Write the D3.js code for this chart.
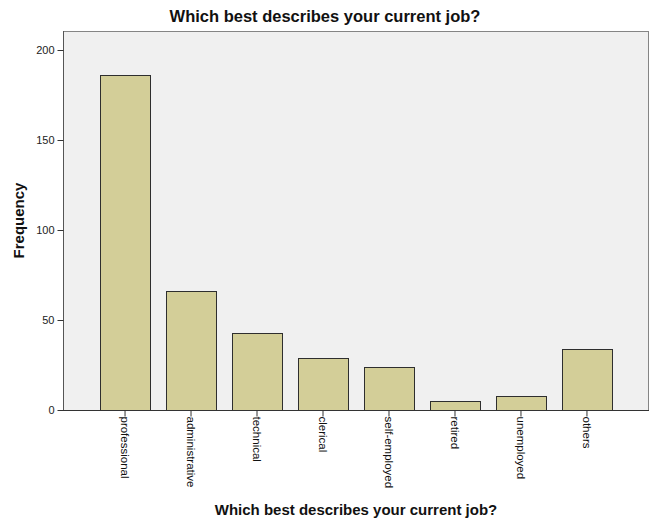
<!DOCTYPE html>
<html>
<head>
<meta charset="utf-8">
<script src="https://cdn.jsdelivr.net/npm/d3@7"></script>
<style>
  html, body { margin: 0; padding: 0; background: #ffffff; }
  svg { display: block; font-family: Arial, "Liberation Sans", sans-serif; }
</style>
</head>
<body>
<svg id="chart" width="650" height="519"></svg>
<script>
const categories = ["professional", "administrative", "technical", "clerical", "self-employed", "retired", "unemployed", "others"];
const frequencies = [186, 66, 43, 29, 24, 5, 8, 34];
const yTicks = [0, 50, 100, 150, 200];
const chartTitle = "Which best describes your current job?";
const xTitle = "Which best describes your current job?";
const yTitle = "Frequency";

const svg = d3.select("#chart");
const plot = { left: 63, right: 649, top: 31, bottom: 410 };

const x = d3.scaleBand()
  .domain(categories)
  .range([plot.left, plot.right])
  .paddingInner(0.24)
  .paddingOuter(0.56);

const y = d3.scaleLinear()
  .domain([0, 200])
  .range([plot.bottom, 50]);

// plot background
svg.append("rect")
  .attr("x", plot.left + 0.5)
  .attr("y", plot.top + 0.5)
  .attr("width", plot.right - plot.left - 1)
  .attr("height", plot.bottom - plot.top)
  .attr("fill", "#f0f0f0")
  .attr("stroke", "#858585")
  .attr("stroke-width", 1);

// bars
svg.append("g").selectAll("rect")
  .data(categories.map((c, i) => ({ c, v: frequencies[i] })))
  .join("rect")
  .attr("x", d => Math.round(x(d.c)) + 0.5)
  .attr("y", d => Math.round(y(d.v)) + 0.5)
  .attr("width", d => Math.round(x.bandwidth()))
  .attr("height", d => Math.round(y(0)) - Math.round(y(d.v)))
  .attr("fill", "#d3ce98")
  .attr("stroke", "#2e2e2e")
  .attr("stroke-width", 1);

// y axis
const yAxis = d3.axisLeft(y).tickValues(yTicks).tickSize(6).tickPadding(3).tickFormat(d3.format("d"));
const gy = svg.append("g")
  .attr("transform", `translate(${plot.left + 0.5},0)`)
  .call(yAxis);
gy.select(".domain").attr("d", `M0,${plot.top}V${plot.bottom + 0.5}`).attr("stroke", "#555");
gy.selectAll(".tick line").attr("stroke", "#333");
gy.selectAll(".tick text").attr("font-size", "11px").attr("fill", "#222").attr("font-family", "Arial, 'Liberation Sans', sans-serif");

// x axis
const xAxis = d3.axisBottom(x).tickSize(6).tickPadding(2);
const gx = svg.append("g")
  .attr("transform", `translate(0,${plot.bottom + 0.5})`)
  .call(xAxis);
gx.select(".domain").attr("d", `M${plot.left},0H${plot.right}`).attr("stroke", "#333");
gx.selectAll(".tick line").attr("stroke", "#333");
gx.selectAll(".tick text")
  .attr("font-size", "11.5px")
  .attr("fill", "#111")
  .attr("font-family", "Arial, 'Liberation Sans', sans-serif")
  .attr("transform", "rotate(90)")
  .attr("text-anchor", "start")
  .attr("dy", "0.35em")
  .attr("x", 6)
  .attr("y", 0);

// titles
svg.append("text")
  .attr("x", 325)
  .attr("y", 22)
  .attr("text-anchor", "middle")
  .attr("font-size", "16.5px")
  .attr("font-weight", "bold")
  .attr("fill", "#111")
  .text(chartTitle);

svg.append("text")
  .attr("x", (plot.left + plot.right) / 2)
  .attr("y", 515)
  .attr("text-anchor", "middle")
  .attr("font-size", "15px")
  .attr("font-weight", "bold")
  .attr("fill", "#111")
  .text(xTitle);

svg.append("text")
  .attr("transform", `translate(24,${(plot.top + plot.bottom) / 2}) rotate(-90)`)
  .attr("text-anchor", "middle")
  .attr("font-size", "15px")
  .attr("font-weight", "bold")
  .attr("fill", "#111")
  .text(yTitle);
</script>
</body>
</html>
